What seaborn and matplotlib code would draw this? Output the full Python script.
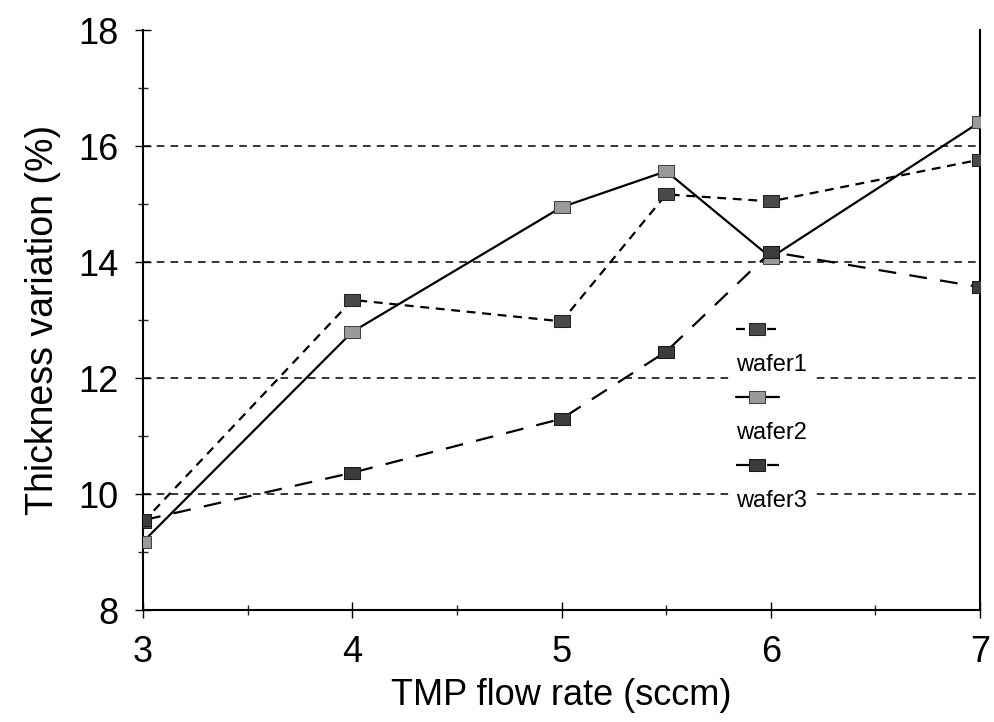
import numpy as np
import pandas as pd
import seaborn as sns
import matplotlib.pyplot as plt
from matplotlib.lines import Line2D
from matplotlib.ticker import MultipleLocator

# data
flow = [3, 4, 5, 5.5, 6, 7]
wafer1 = [9.52, 13.35, 12.98, 15.17, 15.05, 15.77]
wafer2 = [9.18, 12.80, 14.95, 15.57, 14.08, 16.42]
wafer3 = [9.55, 10.37, 11.30, 12.46, 14.18, 13.57]
grid_levels = [10, 12, 14, 16]

sns.set_style("ticks")
plt.rcParams['font.family'] = ['Liberation Sans', 'DejaVu Sans']
plt.rcParams['text.color'] = 'black'
plt.rcParams['axes.labelcolor'] = 'black'

fig = plt.figure(figsize=(9.94, 7.22), dpi=100)
ax = fig.add_axes([0.144, 0.155, 0.842, 0.803])

rect = [(-1.5, -1), (1.5, -1), (1.5, 1), (-1.5, 1), (-1.5, -1)]

sns.lineplot(x=flow, y=wafer1, ax=ax, color="black", lw=1.6,
             linestyle=(0, (4, 3)), marker=rect, markersize=12,
             markerfacecolor="#4a4a4a", markeredgecolor="#222222",
             label="wafer1", zorder=3)
sns.lineplot(x=flow, y=wafer2, ax=ax, color="black", lw=1.6,
             linestyle="-", marker=rect, markersize=12,
             markerfacecolor="#9a9a9a", markeredgecolor="#444444",
             label="wafer2", zorder=3)
sns.lineplot(x=flow, y=wafer3, ax=ax, color="black", lw=1.6,
             linestyle=(0, (8, 6)), marker=rect, markersize=12,
             markerfacecolor="#3c3c3c", markeredgecolor="#1a1a1a",
             label="wafer3", zorder=3)

for g in grid_levels:
    ax.axhline(g, color="black", lw=1.1, linestyle=(0, (5, 4)), zorder=1)

ax.set_xlim(3, 7)
ax.set_ylim(8, 18)
ax.xaxis.set_major_locator(MultipleLocator(1))
ax.xaxis.set_minor_locator(MultipleLocator(0.5))
ax.yaxis.set_major_locator(MultipleLocator(2))
ax.yaxis.set_minor_locator(MultipleLocator(1))
ax.tick_params(which="major", direction="inout", length=12, width=1,
               labelsize=26, pad=12, colors="black")
ax.tick_params(which="minor", direction="inout", length=7, width=1)

ax.spines["top"].set_visible(False)
for s in ["left", "bottom", "right"]:
    ax.spines[s].set_linewidth(1.5)
    ax.spines[s].set_color("black")

ax.set_xlabel("TMP flow rate (sccm)", fontsize=26, labelpad=6)
ax.set_ylabel("Thickness variation (%)", fontsize=27, labelpad=12)

# legend: marker row, then its label underneath
h, l = ax.get_legend_handles_labels()
blank = Line2D([], [], linestyle="none")
handles, labels = [], []
for hh, ll in zip(h, l):
    handles += [hh, blank]
    labels += ["", ll]
leg = ax.legend(handles, labels, loc="upper left", bbox_to_anchor=(0.686, 0.532),
                frameon=True, facecolor="white", edgecolor="none", framealpha=1,
                fancybox=False, borderpad=0.3,
                fontsize=17, handlelength=1.8, handletextpad=-1.8,
                labelspacing=0.5, markerscale=1.0)
leg.set_zorder(2)

fig.savefig("out.png", dpi=100)
